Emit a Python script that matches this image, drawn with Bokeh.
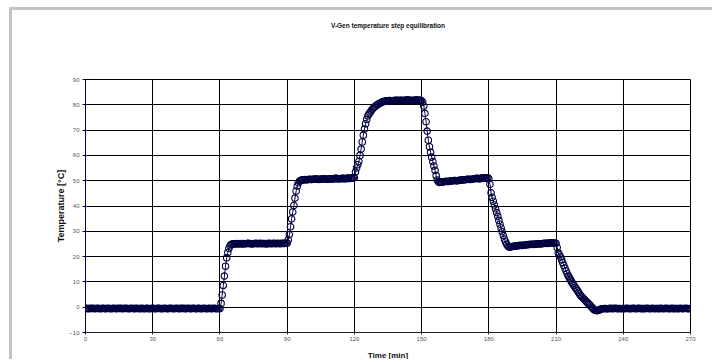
from bokeh.plotting import figure
from bokeh.models import Range1d, LinearAxis, FixedTicker
from bokeh.embed import file_html
from bokeh.resources import INLINE

# ---- data (one sample every half minute) ----
time_min = [
    0, 0.5, 1, 1.5, 2, 2.5, 3, 3.5, 4, 4.5,
    5, 5.5, 6, 6.5, 7, 7.5, 8, 8.5, 9, 9.5,
    10, 10.5, 11, 11.5, 12, 12.5, 13, 13.5, 14, 14.5,
    15, 15.5, 16, 16.5, 17, 17.5, 18, 18.5, 19, 19.5,
    20, 20.5, 21, 21.5, 22, 22.5, 23, 23.5, 24, 24.5,
    25, 25.5, 26, 26.5, 27, 27.5, 28, 28.5, 29, 29.5,
    30, 30.5, 31, 31.5, 32, 32.5, 33, 33.5, 34, 34.5,
    35, 35.5, 36, 36.5, 37, 37.5, 38, 38.5, 39, 39.5,
    40, 40.5, 41, 41.5, 42, 42.5, 43, 43.5, 44, 44.5,
    45, 45.5, 46, 46.5, 47, 47.5, 48, 48.5, 49, 49.5,
    50, 50.5, 51, 51.5, 52, 52.5, 53, 53.5, 54, 54.5,
    55, 55.5, 56, 56.5, 57, 57.5, 58, 58.5, 59, 59.5,
    60, 60.5, 61, 61.5, 62, 62.5, 63, 63.5, 64, 64.5,
    65, 65.5, 66, 66.5, 67, 67.5, 68, 68.5, 69, 69.5,
    70, 70.5, 71, 71.5, 72, 72.5, 73, 73.5, 74, 74.5,
    75, 75.5, 76, 76.5, 77, 77.5, 78, 78.5, 79, 79.5,
    80, 80.5, 81, 81.5, 82, 82.5, 83, 83.5, 84, 84.5,
    85, 85.5, 86, 86.5, 87, 87.5, 88, 88.5, 89, 89.5,
    90, 90.5, 91, 91.5, 92, 92.5, 93, 93.5, 94, 94.5,
    95, 95.5, 96, 96.5, 97, 97.5, 98, 98.5, 99, 99.5,
    100, 100.5, 101, 101.5, 102, 102.5, 103, 103.5, 104, 104.5,
    105, 105.5, 106, 106.5, 107, 107.5, 108, 108.5, 109, 109.5,
    110, 110.5, 111, 111.5, 112, 112.5, 113, 113.5, 114, 114.5,
    115, 115.5, 116, 116.5, 117, 117.5, 118, 118.5, 119, 119.5,
    120, 120.5, 121, 121.5, 122, 122.5, 123, 123.5, 124, 124.5,
    125, 125.5, 126, 126.5, 127, 127.5, 128, 128.5, 129, 129.5,
    130, 130.5, 131, 131.5, 132, 132.5, 133, 133.5, 134, 134.5,
    135, 135.5, 136, 136.5, 137, 137.5, 138, 138.5, 139, 139.5,
    140, 140.5, 141, 141.5, 142, 142.5, 143, 143.5, 144, 144.5,
    145, 145.5, 146, 146.5, 147, 147.5, 148, 148.5, 149, 149.5,
    150, 150.5, 151, 151.5, 152, 152.5, 153, 153.5, 154, 154.5,
    155, 155.5, 156, 156.5, 157, 157.5, 158, 158.5, 159, 159.5,
    160, 160.5, 161, 161.5, 162, 162.5, 163, 163.5, 164, 164.5,
    165, 165.5, 166, 166.5, 167, 167.5, 168, 168.5, 169, 169.5,
    170, 170.5, 171, 171.5, 172, 172.5, 173, 173.5, 174, 174.5,
    175, 175.5, 176, 176.5, 177, 177.5, 178, 178.5, 179, 179.5,
    180, 180.5, 181, 181.5, 182, 182.5, 183, 183.5, 184, 184.5,
    185, 185.5, 186, 186.5, 187, 187.5, 188, 188.5, 189, 189.5,
    190, 190.5, 191, 191.5, 192, 192.5, 193, 193.5, 194, 194.5,
    195, 195.5, 196, 196.5, 197, 197.5, 198, 198.5, 199, 199.5,
    200, 200.5, 201, 201.5, 202, 202.5, 203, 203.5, 204, 204.5,
    205, 205.5, 206, 206.5, 207, 207.5, 208, 208.5, 209, 209.5,
    210, 210.5, 211, 211.5, 212, 212.5, 213, 213.5, 214, 214.5,
    215, 215.5, 216, 216.5, 217, 217.5, 218, 218.5, 219, 219.5,
    220, 220.5, 221, 221.5, 222, 222.5, 223, 223.5, 224, 224.5,
    225, 225.5, 226, 226.5, 227, 227.5, 228, 228.5, 229, 229.5,
    230, 230.5, 231, 231.5, 232, 232.5, 233, 233.5, 234, 234.5,
    235, 235.5, 236, 236.5, 237, 237.5, 238, 238.5, 239, 239.5,
    240, 240.5, 241, 241.5, 242, 242.5, 243, 243.5, 244, 244.5,
    245, 245.5, 246, 246.5, 247, 247.5, 248, 248.5, 249, 249.5,
    250, 250.5, 251, 251.5, 252, 252.5, 253, 253.5, 254, 254.5,
    255, 255.5, 256, 256.5, 257, 257.5, 258, 258.5, 259, 259.5,
    260, 260.5, 261, 261.5, 262, 262.5, 263, 263.5, 264, 264.5,
    265, 265.5, 266, 266.5, 267, 267.5, 268, 268.5, 269, 269.5,
    270,
]

temperature_c = [
    -0.4, -0.5, -0.5, -0.6, -0.4, -0.5, -0.5, -0.4, -0.6, -0.5,
    -0.5, -0.4, -0.5, -0.6, -0.5, -0.5, -0.4, -0.5, -0.6, -0.5,
    -0.4, -0.5, -0.5, -0.6, -0.5, -0.4, -0.5, -0.5, -0.6, -0.4,
    -0.5, -0.5, -0.4, -0.6, -0.5, -0.5, -0.4, -0.5, -0.5, -0.6,
    -0.5, -0.4, -0.5, -0.5, -0.6, -0.4, -0.5, -0.5, -0.5, -0.6,
    -0.4, -0.5, -0.5, -0.6, -0.5, -0.4, -0.5, -0.6, -0.5, -0.5,
    -0.4, -0.5, -0.6, -0.5, -0.5, -0.4, -0.5, -0.5, -0.6, -0.5,
    -0.5, -0.4, -0.5, -0.6, -0.5, -0.5, -0.4, -0.5, -0.5, -0.6,
    -0.5, -0.4, -0.5, -0.5, -0.6, -0.4, -0.5, -0.5, -0.4, -0.6,
    -0.5, -0.5, -0.4, -0.5, -0.6, -0.5, -0.4, -0.5, -0.5, -0.6,
    -0.5, -0.4, -0.5, -0.6, -0.5, -0.5, -0.4, -0.5, -0.6, -0.5,
    -0.5, -0.4, -0.6, -0.5, -0.5, -0.4, -0.5, -0.6, -0.5, -0.5,
    -0.6, 1.5, 4.8, 8.6, 12.3, 16.2, 19.5, 21.6, 23.2, 24.3,
    24.8, 25.0, 25.1, 25.0, 25.1, 25.2, 25.0, 25.1, 25.2, 25.1,
    25.0, 25.2, 25.1, 25.1, 25.2, 25.3, 25.2, 25.1, 25.2, 25.0,
    25.1, 25.2, 25.3, 25.2, 25.1, 25.2, 25.3, 25.1, 25.2, 25.2,
    25.1, 25.2, 25.0, 25.2, 25.3, 25.2, 25.1, 25.2, 25.3, 25.2,
    25.1, 25.3, 25.2, 25.2, 25.1, 25.3, 25.2, 25.3, 25.2, 25.3,
    25.4, 26.6, 28.7, 31.8, 34.9, 37.6, 40.2, 43.1, 45.9, 47.9,
    49.2, 49.8, 50.1, 50.3, 50.4, 50.3, 50.5, 50.4, 50.4, 50.5,
    50.6, 50.5, 50.5, 50.6, 50.6, 50.7, 50.7, 50.6, 50.5, 50.6,
    50.6, 50.7, 50.8, 50.7, 50.7, 50.6, 50.6, 50.7, 50.8, 50.8,
    50.7, 50.8, 50.8, 50.9, 50.9, 50.8, 50.7, 50.8, 50.8, 50.9,
    50.9, 50.8, 50.8, 50.9, 51.0, 50.9, 50.9, 51.0, 51.0, 51.1,
    51.2, 53.4, 55.0, 56.3, 57.6, 60.0, 62.5, 65.3, 68.0, 70.4,
    72.5, 74.2, 75.6, 76.3, 76.9, 77.6, 78.2, 78.7, 79.1, 79.5,
    79.9, 80.2, 80.4, 80.7, 80.9, 81.1, 81.3, 81.4, 81.5, 81.6,
    81.6, 81.7, 81.7, 81.6, 81.6, 81.7, 81.7, 81.8, 81.8, 81.7,
    81.7, 81.8, 81.8, 81.7, 81.7, 81.8, 81.8, 81.9, 81.9, 81.8,
    81.8, 81.7, 81.7, 81.8, 81.8, 81.9, 81.9, 81.8, 81.8, 81.8,
    81.6, 81.0, 79.5, 76.6, 73.3, 69.6, 66.0, 63.4, 61.2, 59.3,
    57.6, 55.8, 54.1, 52.0, 50.3, 49.6, 49.3, 49.4, 49.5, 49.5,
    49.6, 49.7, 49.8, 49.7, 49.7, 49.8, 49.9, 50.0, 50.0, 50.1,
    50.1, 50.0, 50.0, 50.1, 50.2, 50.3, 50.3, 50.3, 50.4, 50.4,
    50.5, 50.6, 50.6, 50.5, 50.5, 50.6, 50.7, 50.8, 50.8, 50.9,
    50.9, 50.8, 50.8, 50.9, 51.0, 51.1, 51.1, 51.0, 51.0, 51.1,
    50.8, 48.6, 45.2, 43.4, 41.9, 40.4, 38.9, 37.4, 35.9, 34.3,
    32.8, 31.3, 29.8, 28.3, 26.9, 25.8, 24.9, 24.2, 23.8, 23.8,
    23.9, 24.0, 24.1, 24.1, 24.2, 24.3, 24.3, 24.4, 24.5, 24.4,
    24.4, 24.5, 24.6, 24.6, 24.7, 24.8, 24.8, 24.8, 24.9, 24.9,
    24.8, 24.9, 25.0, 25.0, 25.1, 25.1, 25.0, 25.1, 25.2, 25.2,
    25.3, 25.3, 25.2, 25.3, 25.4, 25.5, 25.5, 25.4, 25.4, 25.4,
    25.3, 23.6, 21.5, 20.7, 19.9, 18.8, 17.6, 16.5, 15.4, 14.3,
    13.2, 12.3, 11.5, 10.7, 9.9, 9.2, 8.6, 7.9, 7.3, 6.6,
    5.9, 5.2, 4.6, 4.1, 3.7, 3.2, 2.8, 2.3, 1.9, 1.4,
    1.0, 0.5, 0.0, -0.5, -1.0, -1.2, -1.4, -1.3, -1.2, -1.0,
    -0.7, -0.6, -0.6, -0.5, -0.5, -0.6, -0.6, -0.5, -0.5, -0.4,
    -0.6, -0.5, -0.5, -0.4, -0.5, -0.6, -0.5, -0.5, -0.6, -0.5,
    -0.5, -0.6, -0.5, -0.4, -0.5, -0.5, -0.6, -0.5, -0.5, -0.4,
    -0.5, -0.6, -0.5, -0.5, -0.4, -0.5, -0.6, -0.5, -0.5, -0.6,
    -0.5, -0.4, -0.5, -0.5, -0.6, -0.5, -0.4, -0.5, -0.6, -0.5,
    -0.5, -0.5, -0.6, -0.4, -0.5, -0.5, -0.6, -0.5, -0.4, -0.5,
    -0.5, -0.6, -0.5, -0.5, -0.4, -0.6, -0.5, -0.5, -0.5, -0.6,
    -0.5, -0.4, -0.5, -0.6, -0.5, -0.5, -0.4, -0.5, -0.6, -0.5,
    -0.5,
]

x_ticks = [0, 30, 60, 90, 120, 150, 180, 210, 240, 270]
y_ticks = [-10, 0, 10, 20, 30, 40, 50, 60, 70, 80, 90]

title_text = "V-Gen temperature step equilibration"
x_label = "Time [min]"
y_label = "Temperature [°C]"

NAVY = "#000040"
FONT = "Liberation Sans"

p = figure(
    width=703, height=352,
    x_range=Range1d(0, 270), y_range=Range1d(-10, 90),
    output_backend="svg", toolbar_location=None,
    min_border_left=73, min_border_top=69,
    min_border_right=25, min_border_bottom=30,
)
p.styles = {
    "margin-top": "7px", "margin-left": "9px",
    "border-top": "3px solid #c4c4c4", "border-left": "3px solid #c4c4c4",
}
p.background_fill_color = "white"
p.border_fill_color = "white"
p.outline_line_color = "black"
p.outline_line_width = 1

# grids
p.xgrid.ticker = x_ticks
p.ygrid.ticker = y_ticks
for g in (p.xgrid, p.ygrid):
    g.grid_line_color = "black"
    g.grid_line_width = 1
    g.grid_line_alpha = 1.0

# axes
xaxis = p.below[0]
yaxis = p.left[0]
xaxis.ticker = x_ticks
yaxis.ticker = y_ticks
for ax in (xaxis, yaxis):
    ax.minor_tick_line_color = None
    ax.major_label_text_font = FONT
    ax.major_label_text_font_size = "6px"
    ax.major_label_text_color = "#555555"
    ax.axis_label_text_font = FONT
    ax.axis_label_text_font_style = "bold"
    ax.axis_label_text_color = "#111111"

xaxis.axis_line_color = "#222222"
xaxis.major_tick_line_color = "#222222"
xaxis.major_tick_in = 0
xaxis.major_tick_out = 2
xaxis.major_label_standoff = 2
xaxis.axis_label = x_label
xaxis.axis_label_text_font_size = "8px"
xaxis.axis_label_standoff = 7

yaxis.axis_line_color = NAVY
yaxis.major_tick_line_color = NAVY
yaxis.major_tick_in = 3
yaxis.major_tick_out = 3
yaxis.major_label_standoff = 3
yaxis.axis_label = y_label
yaxis.axis_label_text_font_size = "9px"
yaxis.axis_label_standoff = 0

# chart title: carried by a tick-less axis above the plot area so it can sit
# well above the frame
title_axis = LinearAxis(
    axis_label=title_text,
    ticker=FixedTicker(ticks=[]),
    axis_line_color=None,
    major_tick_line_color=None, minor_tick_line_color=None,
    major_tick_in=0, major_tick_out=0, minor_tick_in=0, minor_tick_out=0,
    major_label_text_font_size="0px",
    axis_label_standoff=51,
    axis_label_text_font=FONT,
    axis_label_text_font_size="6.5px",
    axis_label_text_font_style="bold",
    axis_label_text_color="#111111",
)
p.add_layout(title_axis, "above")

# data
p.line(time_min, temperature_c, line_color=NAVY, line_width=1)
p.scatter(time_min, temperature_c, marker="circle", size=6.5,
          fill_color=None, line_color=NAVY, line_width=1.1)

open("out.html", "w").write(file_html(p, INLINE))
